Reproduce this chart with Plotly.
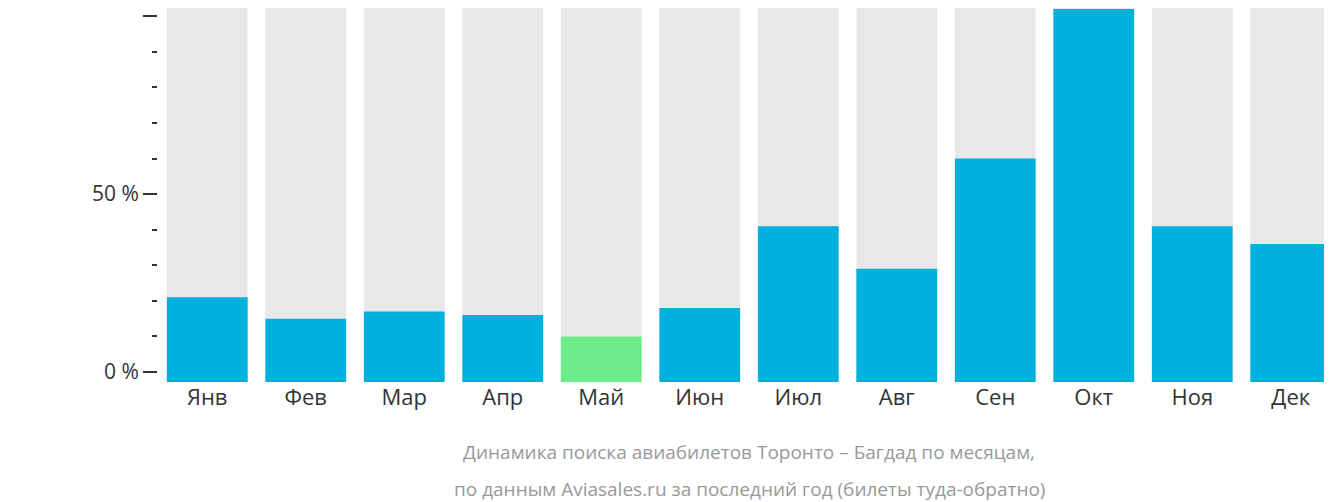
import plotly.graph_objects as go

months = ["Янв", "Фев", "Мар", "Апр", "Май", "Июн", "Июл", "Авг", "Сен", "Окт", "Ноя", "Дек"]
values = [21, 15, 17, 16, 10, 18, 41, 29, 60, 102, 41, 36]
lowest = "Май"
y_min, y_max = -2.8, 102.3
caption = ["Динамика поиска авиабилетов Торонто – Багдад по месяцам,",
           "по данным Aviasales.ru за последний год (билеты туда-обратно)"]

colors = ["#6ced8a" if m == lowest else "#00b0dd" for m in months]

fig = go.Figure()
fig.add_bar(x=months, y=[y_max - y_min] * len(months), base=y_min,
            marker=dict(color="#e8e8e8", line_width=0), hoverinfo="skip")
fig.add_bar(x=months, y=[v - y_min for v in values], base=y_min,
            marker=dict(color=colors, line_width=0))

fig.update_layout(
    width=1332, height=502, barmode="overlay", bargap=0.18, showlegend=False,
    plot_bgcolor="white", paper_bgcolor="white",
    margin=dict(l=150, r=0, t=0, b=128),
    font=dict(family="Open Sans", size=20, color="#333333"),
    annotations=[dict(text=t, x=0.5, xref="paper", xanchor="center",
                      y=y, yref="paper", yanchor="middle", showarrow=False,
                      font=dict(size=19, color="#999999"))
                 for t, y in zip(caption, [-0.187, -0.286])],
)
fig.update_xaxes(showline=False, ticks="", showgrid=False, tickfont=dict(size=22),
                 automargin=False)
fig.update_yaxes(range=[y_min, y_max], tickvals=[0, 50, 100], ticktext=["0 %", "50 %", "100 %"],
                 ticks="outside", ticklen=14, tickwidth=2, tickcolor="#333333",
                 tickfont=dict(size=21), automargin=False,
                 showgrid=False, zeroline=False, showline=False,
                 minor=dict(tickvals=[10, 20, 30, 40, 60, 70, 80, 90], ticks="outside",
                            ticklen=5, tickwidth=2, tickcolor="#333333"))

fig.write_html("out.html")
